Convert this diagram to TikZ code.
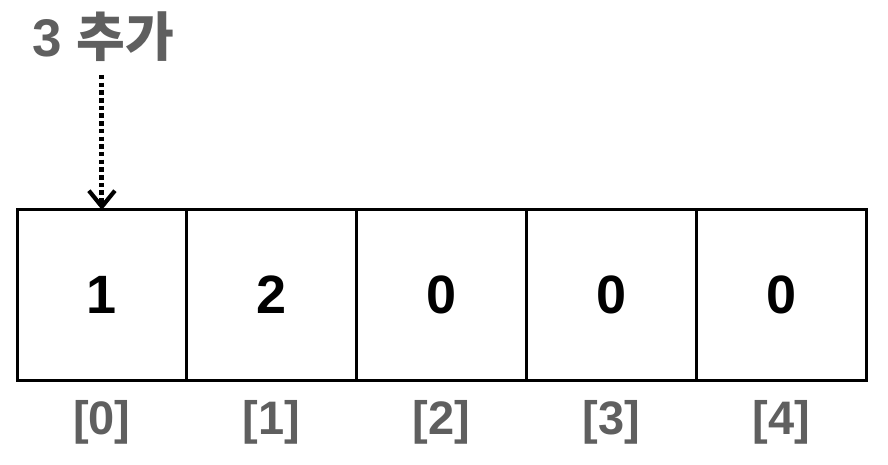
\documentclass[tikz,border=0pt]{standalone}
\usepackage{fontspec}
\setmainfont{Liberation Sans}
\newfontfamily\krfont{Noto Sans CJK KR}
\usetikzlibrary{positioning}
\usetikzlibrary{arrows.meta}
\definecolor{idxgray}{HTML}{5F5F5F}

\begin{document}
\begin{tikzpicture}[x=1pt,y=1pt,
    cell/.style={draw,line width=3pt,minimum width=169.8pt,minimum height=170pt,outer sep=0pt,inner sep=0pt,font=\fontsize{54}{60}\selectfont\bfseries},
    idx/.style={text=idxgray,inner sep=0pt,font=\fontsize{47}{50}\selectfont\bfseries},
    dotarrow/.style={line width=5pt,dash pattern=on 4.5pt off 3.2pt,-{Straight Barb[length=16pt,width=26pt,line width=4.2pt]}}]
    \useasboundingbox (0,0) rectangle (888,464);
    \node[cell] (c0) at (101.9,169) {1};
    \node[cell,right=0pt of c0] (c1) {2};
    \node[cell,right=0pt of c1] (c2) {0};
    \node[cell,right=0pt of c2] (c3) {0};
    \node[cell,right=0pt of c3] (c4) {0};
    \foreach \i in {0,...,4}
        \node[idx,below=20pt of c\i] (i\i) {[\i]};
    \node[anchor=base west,text=idxgray,inner sep=0pt,font=\fontsize{53}{60}\selectfont\bfseries] (add) at (32,407) {3 {\krfont 추가}};
    \coordinate (start) at (c0.north |- 0,389);
    \draw[dotarrow] (start) --(c0.north);
\end{tikzpicture}
\end{document}
